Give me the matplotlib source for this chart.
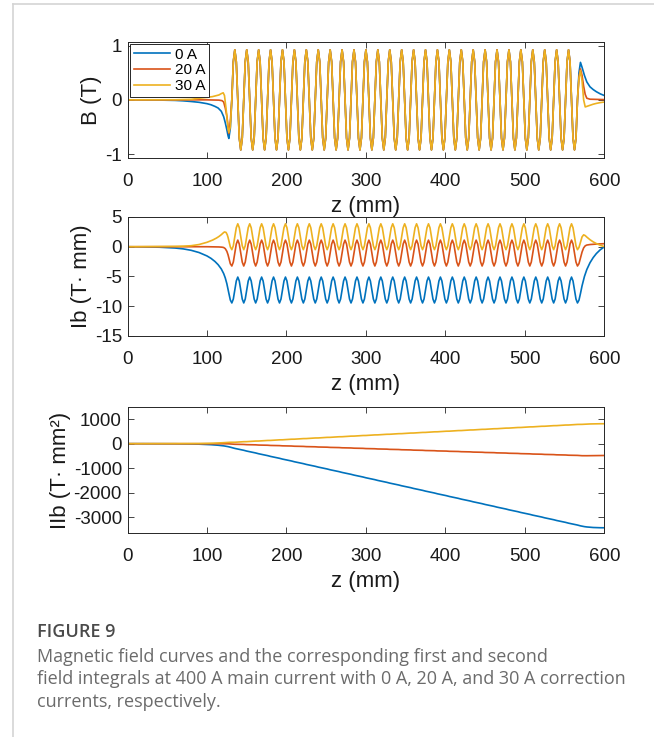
"""Field curves of the undulator at 400 A main current, with the first and
second field integrals for 0 A, 20 A and 30 A correction currents.

Writes out.png next to the script.
"""
import numpy as np
import matplotlib
matplotlib.use("Agg")
import matplotlib.pyplot as plt
from matplotlib.lines import Line2D

plt.rcParams["font.family"] = ["Liberation Sans", "DejaVu Sans"]
plt.rcParams["axes.unicode_minus"] = False

SERIES = ["0 A", "20 A", "30 A"]
COLORS = ["#0072BD", "#D95319", "#EDB120"]

Z_TICKS = [0, 100, 200, 300, 400, 500, 600]
B_TICKS = [-1, 0, 1]
IB_TICKS = [-15, -10, -5, 0, 5]
IIB_TICKS = [-3000, -2000, -1000, 0, 1000]

# entry fringe field (z in mm, B in T)
z_in_0a = [0, 40, 60, 70, 80, 90, 100, 105, 110, 114, 118, 121, 123, 125, 126.5, 127.5, 129.375]
b_in_0a = [0, -0.004, -0.01, -0.018, -0.03, -0.045, -0.07, -0.09, -0.12, -0.15, -0.21,
           -0.31, -0.42, -0.55, -0.66, -0.71, -0.52]
z_in_20a = [0, 100, 115, 119, 121, 123, 125, 126.5, 127.5, 129.375]
b_in_20a = [0, 0, -0.005, -0.015, -0.04, -0.15, -0.3, -0.48, -0.62, -0.4]
z_in_30a = [0, 60, 70, 80, 90, 100, 107, 112, 115, 118, 120.4, 122, 124, 125.5, 126.5, 127.5, 129.375]
b_in_30a = [0, 0.002, 0.005, 0.01, 0.03, 0.045, 0.06, 0.08, 0.09, 0.115, 0.13, 0.08,
            -0.16, -0.37, -0.52, -0.6, -0.5]

# periodic part, identical for the three currents: 29 periods of 15 mm,
# sampled every 1.875 mm from the zero crossing at 131.25 mm
CORE_START = 131.25
CORE_STEP = 1.875
b_core = [
    0.0, 0.70, 0.92, 0.70, 0.0, -0.70, -0.92, -0.70,
    0.0, 0.70, 0.92, 0.70, 0.0, -0.70, -0.92, -0.70,
    0.0, 0.70, 0.92, 0.70, 0.0, -0.70, -0.92, -0.70,
    0.0, 0.70, 0.92, 0.70, 0.0, -0.70, -0.92, -0.70,
    0.0, 0.70, 0.92, 0.70, 0.0, -0.70, -0.92, -0.70,
    0.0, 0.70, 0.92, 0.70, 0.0, -0.70, -0.92, -0.70,
    0.0, 0.70, 0.92, 0.70, 0.0, -0.70, -0.92, -0.70,
    0.0, 0.70, 0.92, 0.70, 0.0, -0.70, -0.92, -0.70,
    0.0, 0.70, 0.92, 0.70, 0.0, -0.70, -0.92, -0.70,
    0.0, 0.70, 0.92, 0.70, 0.0, -0.70, -0.92, -0.70,
    0.0, 0.70, 0.92, 0.70, 0.0, -0.70, -0.92, -0.70,
    0.0, 0.70, 0.92, 0.70, 0.0, -0.70, -0.92, -0.70,
    0.0, 0.70, 0.92, 0.70, 0.0, -0.70, -0.92, -0.70,
    0.0, 0.70, 0.92, 0.70, 0.0, -0.70, -0.92, -0.70,
    0.0, 0.70, 0.92, 0.70, 0.0, -0.70, -0.92, -0.70,
    0.0, 0.70, 0.92, 0.70, 0.0, -0.70, -0.92, -0.70,
    0.0, 0.70, 0.92, 0.70, 0.0, -0.70, -0.92, -0.70,
    0.0, 0.70, 0.92, 0.70, 0.0, -0.70, -0.92, -0.70,
    0.0, 0.70, 0.92, 0.70, 0.0, -0.70, -0.92, -0.70,
    0.0, 0.70, 0.92, 0.70, 0.0, -0.70, -0.92, -0.70,
    0.0, 0.70, 0.92, 0.70, 0.0, -0.70, -0.92, -0.70,
    0.0, 0.70, 0.92, 0.70, 0.0, -0.70, -0.92, -0.70,
    0.0, 0.70, 0.92, 0.70, 0.0, -0.70, -0.92, -0.70,
    0.0, 0.70, 0.92, 0.70, 0.0, -0.70, -0.92, -0.70,
    0.0, 0.70, 0.92, 0.70, 0.0, -0.70, -0.92, -0.70,
    0.0, 0.70, 0.92, 0.70, 0.0, -0.70, -0.92, -0.70,
    0.0, 0.70, 0.92, 0.70, 0.0, -0.70, -0.92, -0.70,
    0.0, 0.70, 0.92, 0.70, 0.0, -0.70, -0.92, -0.70,
    0.0, 0.70, 0.92, 0.70, 0.0, -0.70, -0.92, -0.70,
    0.0,
]

# exit fringe field
z_out_0a = [568.125, 570, 572, 575, 578, 582, 586, 590, 595, 600]
b_out_0a = [0.5, 0.69, 0.6, 0.45, 0.33, 0.24, 0.19, 0.15, 0.11, 0.08]
z_out_20a = [568.125, 570, 572, 574, 576, 578, 582, 590, 600]
b_out_20a = [0.42, 0.57, 0.45, 0.25, 0.1, 0.03, 0.012, 0.008, 0.005]
z_out_30a = [568.125, 570, 572, 574, 576, 578, 582, 586, 590, 595, 600]
b_out_30a = [0.4, 0.54, 0.35, 0.0, -0.13, -0.12, -0.1, -0.08, -0.065, -0.05, -0.04]

CAPTION_TITLE = "FIGURE 9"
CAPTION_LINES = [
    "Magnetic field curves and the corresponding first and second",
    "field integrals at 400 A main current with 0 A, 20 A, and 30 A correction",
    "currents, respectively.",
]


def cumtrapz(z, y):
    steps = 0.5 * (y[1:] + y[:-1]) * np.diff(z)
    return np.concatenate([[0.0], np.cumsum(steps)])


def build(z_in, b_in, z_out, b_out):
    z_core = CORE_START + CORE_STEP * np.arange(len(b_core))
    z = np.concatenate([z_in, z_core, z_out])
    b = np.concatenate([b_in, b_core, b_out])
    ib = cumtrapz(z, b)
    iib = cumtrapz(z, ib)
    return z, b, ib, iib


def style(ax, yticks, ylim, ylabel):
    ax.set_xlim(0, 600)
    ax.set_ylim(*ylim)
    ax.set_xticks(Z_TICKS)
    ax.set_yticks(yticks)
    ax.tick_params(direction="in", top=True, right=True, length=4, width=0.6,
                   colors="#262626", labelsize=13.5, labelcolor="#1a1a1a")
    ax.tick_params(axis="x", pad=11)
    ax.tick_params(axis="y", pad=4)
    for s in ax.spines.values():
        s.set_color("#262626")
        s.set_linewidth(0.7)
    ax.set_xlabel("z (mm)", fontsize=16, labelpad=4, color="#1a1a1a")
    ax.set_ylabel(ylabel, fontsize=16, labelpad=2, color="#1a1a1a")


curves = [
    build(z_in_0a, b_in_0a, z_out_0a, b_out_0a),
    build(z_in_20a, b_in_20a, z_out_20a, b_out_20a),
    build(z_in_30a, b_in_30a, z_out_30a, b_out_30a),
]

fig = plt.figure(figsize=(6.54, 7.37), dpi=100)
ax_b = fig.add_axes([0.195, 0.7856, 0.729, 0.1578])
ax_ib = fig.add_axes([0.195, 0.5441, 0.729, 0.1615])
ax_iib = fig.add_axes([0.195, 0.2768, 0.729, 0.171])

for (z, b, ib, iib), name, col in zip(curves, SERIES, COLORS):
    ax_b.plot(z, b, color=col, lw=1.2, label=name)
    ax_ib.plot(z, ib, color=col, lw=1.2)
    ax_iib.plot(z, iib, color=col, lw=1.2)

style(ax_b, B_TICKS, (-1.07, 1.07), "B (T)")
style(ax_ib, IB_TICKS, (-15, 5), "Ib (T· mm)")
style(ax_iib, IIB_TICKS, (-3650, 1500), "IIb (T· mm²)")

leg = ax_b.legend(loc="upper left", fontsize=11, handlelength=2.4, handletextpad=0.3,
                  labelspacing=0.1, borderpad=0.25, borderaxespad=0.15,
                  fancybox=False, framealpha=1)
leg.get_frame().set_edgecolor("#262626")
leg.get_frame().set_linewidth(0.7)

# page frame of the figure panel
fig.add_artist(Line2D([13 / 654, 13 / 654], [0, 1 - 4 / 737], color="#d4d4d4", lw=1.2))
fig.add_artist(Line2D([13 / 654, 1], [1 - 4 / 737, 1 - 4 / 737], color="#d4d4d4", lw=1.2))

fig.text(37 / 654, 1 - 632 / 737, CAPTION_TITLE, fontsize=13, family=["Open Sans", "DejaVu Sans"],
         fontweight="semibold", color="#4a4a4a", va="center")
for i, line in enumerate(CAPTION_LINES):
    fig.text(37 / 654, 1 - (657 + 22.5 * i) / 737, line, fontsize=13,
             family=["Open Sans", "DejaVu Sans"], color="#6b6b6b", va="center")

fig.savefig("out.png", dpi=100)
